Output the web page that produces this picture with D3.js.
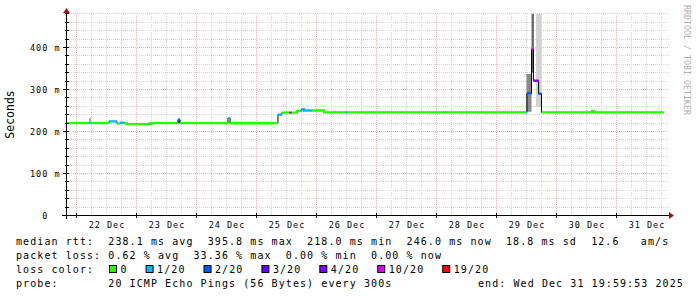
<!DOCTYPE html>
<html>
<head>
<meta charset="utf-8">
<script src="https://cdn.jsdelivr.net/npm/d3@7"></script>
<style>
  body { margin: 0; background: #fff; }
  svg { display: block; }
  text { font-family: "DejaVu Sans Mono", monospace; white-space: pre; }
</style>
</head>
<body>
<svg id="chart" width="697" height="297"></svg>
<script>
// median rtt as steps: start of each step, median in ms, loss bucket (index in lossLabels)
var stepTimes = [
  "2025-12-21 19:59", "2025-12-22 05:10", "2025-12-22 05:50", "2025-12-22 13:00",
  "2025-12-22 16:10", "2025-12-22 17:25", "2025-12-22 19:10", "2025-12-22 20:00",
  "2025-12-23 05:00", "2025-12-23 06:05", "2025-12-23 16:35", "2025-12-23 17:25",
  "2025-12-24 12:35", "2025-12-24 13:25", "2025-12-25 08:35", "2025-12-25 10:10",
  "2025-12-25 13:05", "2025-12-25 14:10", "2025-12-25 16:10", "2025-12-25 18:00",
  "2025-12-25 19:00", "2025-12-25 22:10", "2025-12-26 03:00", "2025-12-26 11:25",
  "2025-12-26 12:10", "2025-12-29 11:50", "2025-12-29 12:10", "2025-12-29 14:00",
  "2025-12-29 14:45", "2025-12-29 16:50", "2025-12-29 18:00", "2025-12-30 14:10",
  "2025-12-30 15:00"
];
var stepRtt = [
  220, 221, 220, 224,
  219, 221, 220, 217.5,
  218.5, 220, 228, 220,
  232, 219.5, 240, 245,
  245, 245, 249, 253,
  250, 250, 245.5, 245.5,
  245.5, 245.5, 291, 396,
  321, 290, 245.5, 249,
  245.5
];
var stepLoss = [
  0, 1, 0, 1,
  0, 1, 0, 0,
  0, 0, 2, 0,
  1, 0, 1, 0,
  5, 0, 0, 1,
  1, 0, 0, 1,
  0, 1, 2, 5,
  4, 2, 0, 0,
  0
];
var lastTime = "2025-12-31 18:50";

// smoke (spread of the 20 pings), ms
var smokeFrom  = ["2025-12-22 05:00", "2025-12-23 16:35", "2025-12-29 12:00", "2025-12-29 14:00", "2025-12-29 15:50"];
var smokeTo    = ["2025-12-22 05:50", "2025-12-23 17:25", "2025-12-29 14:00", "2025-12-29 15:00", "2025-12-29 18:00"];
var smokeLow   = [224, 219, 247, 340, 258];
var smokeHigh  = [233, 226, 337, 480, 480];
var smokeShade = ["#b4b4b4", "#606060", "#8a8a8a", "#6e6e6e", "#d2d2d2"];

var lossLabels = ["0", "1/20", "2/20", "3/20", "4/20", "10/20", "19/20"];
var lossColors = ["#26ff00", "#00b8ff", "#0059ff", "#5e00ff", "#7e00ff", "#dd00ff", "#ff0000"];

var yTicks = [0, 100, 200, 300, 400];
var yMax = 480;

var statsRtt = ["238.1 ms avg", "395.8 ms max", "218.0 ms min", "246.0 ms now", "18.8 ms sd", "12.6   am/s"];
var statsLoss = ["0.62 % avg", "33.36 % max", "0.00 % min", "0.00 % now"];
var probeText = "20 ICMP Echo Pings (56 Bytes) every 300s";
var endText = "end: Wed Dec 31 19:59:53 2025";

var parse = d3.timeParse("%Y-%m-%d %H:%M");
var tStart = d3.timeParse("%Y-%m-%d %H:%M:%S")("2025-12-21 19:59:53");
var tEnd = d3.timeParse("%Y-%m-%d %H:%M:%S")("2025-12-31 19:59:53");

var svg = d3.select("#chart");
var x = d3.scaleTime().domain([tStart, tEnd]).range([66.5, 666.5]);
var y = d3.scaleLinear().domain([0, yMax]).range([215.5, 13.9]);
var crisp = v => Math.floor(v) + 0.5;

// grid
var grid = svg.append("g");
var minorT = d3.timeHour.every(6).range(tStart, tEnd).filter(d => d.getHours() != 0);
var majorT = d3.timeDay.range(tStart, tEnd);
grid.selectAll(".vmin").data(minorT).enter().append("line")
  .attr("x1", d => crisp(x(d))).attr("x2", d => crisp(x(d)))
  .attr("y1", 215).attr("y2", y(yMax))
  .attr("stroke", "#d2d2d2").attr("stroke-dasharray", "1,1");
var hMinor = d3.range(20, yMax + 1, 20).filter(v => v % 100 != 0);
grid.selectAll(".hmin").data(hMinor).enter().append("line")
  .attr("x1", 67).attr("x2", 668)
  .attr("y1", d => crisp(y(d))).attr("y2", d => crisp(y(d)))
  .attr("stroke", "#d2d2d2").attr("stroke-dasharray", "1,1");
grid.selectAll(".vmaj").data(majorT).enter().append("line")
  .attr("x1", d => crisp(x(d))).attr("x2", d => crisp(x(d)))
  .attr("y1", 215).attr("y2", y(yMax))
  .attr("stroke", "#f2b2b2").attr("stroke-dasharray", "1,1");
grid.selectAll(".hmaj").data(yTicks.filter(v => v > 0)).enter().append("line")
  .attr("x1", 67).attr("x2", 668)
  .attr("y1", d => crisp(y(d))).attr("y2", d => crisp(y(d)))
  .attr("stroke", "#f2b2b2").attr("stroke-dasharray", "1,1");

// smoke
svg.append("g").selectAll("rect").data(smokeFrom).enter().append("rect")
  .attr("x", (d, i) => x(parse(d)))
  .attr("width", (d, i) => x(parse(smokeTo[i])) - x(parse(d)))
  .attr("y", (d, i) => y(smokeHigh[i]))
  .attr("height", (d, i) => y(smokeLow[i]) - y(smokeHigh[i]))
  .attr("fill", (d, i) => smokeShade[i]);

// median line, black underneath
var steps = stepTimes.map((d, i) => ({ t: parse(d), v: stepRtt[i], loss: stepLoss[i] }));
var line = d3.line().x(d => x(d.t)).y(d => y(d.v)).curve(d3.curveStepAfter);
var allPts = steps.concat([{ t: parse(lastTime), v: stepRtt[stepRtt.length - 1], loss: 0 }]);
svg.append("path").attr("d", line(allPts))
  .attr("fill", "none").attr("stroke", "#000").attr("stroke-width", 1);

// coloured runs by loss
var runs = [];
steps.forEach((s, i) => {
  var next = i + 1 < steps.length ? steps[i + 1].t : parse(lastTime);
  var last = runs[runs.length - 1];
  if (last && last.loss == s.loss) {
    last.pts.push(s);
    last.end = { t: next, v: s.v };
  } else {
    runs.push({ loss: s.loss, pts: [s], end: { t: next, v: s.v } });
  }
});
svg.append("g").selectAll("path").data(runs).enter().append("path")
  .attr("d", r => line(r.pts.concat([r.end])))
  .attr("fill", "none")
  .attr("stroke", r => lossColors[r.loss])
  .attr("stroke-width", 2.4);

// axes
var axis = svg.append("g");
axis.append("line").attr("x1", 62).attr("x2", 670).attr("y1", 215.5).attr("y2", 215.5).attr("stroke", "#000");
axis.append("line").attr("x1", 66.5).attr("x2", 66.5).attr("y1", 219).attr("y2", 12).attr("stroke", "#000");
axis.append("path").attr("d", "M669,212L674,215.5L669,219Z").attr("fill", "#a01818");
axis.append("path").attr("d", "M63,13L66.5,8L70,13Z").attr("fill", "#a01818");
axis.selectAll(".xt").data(majorT).enter().append("line")
  .attr("x1", d => crisp(x(d))).attr("x2", d => crisp(x(d)))
  .attr("y1", 213).attr("y2", 218).attr("stroke", "#000");
axis.selectAll(".yt").data(d3.range(20, yMax + 1, 20)).enter().append("line")
  .attr("x1", d => d % 100 == 0 ? 63 : 65).attr("x2", 69)
  .attr("y1", d => crisp(y(d))).attr("y2", d => crisp(y(d)))
  .attr("stroke", "#000");

// tick labels
svg.append("g").selectAll("text").data(yTicks).enter().append("text")
  .attr("x", 60.6).attr("y", d => y(d) + 3.5)
  .attr("text-anchor", "end")
  .attr("font-size", "8.5px").attr("letter-spacing", "1.0px").attr("fill", "#000")
  .text(d => d == 0 ? "0  " : d + " m");
svg.append("g").selectAll("text").data(majorT).enter().append("text")
  .attr("x", d => x(d3.timeHour.offset(d, 12)) + 0.5).attr("y", 227.5)
  .attr("text-anchor", "middle")
  .attr("font-size", "8.5px").attr("letter-spacing", "1.0px").attr("fill", "#000")
  .text(d3.timeFormat("%d %b"));

svg.append("text")
  .attr("transform", "translate(14,114.5) rotate(-90)")
  .attr("text-anchor", "middle").attr("font-size", "11.5px").attr("fill", "#000")
  .text("Seconds");

svg.append("text")
  .attr("transform", "translate(683.5,5) rotate(90)")
  .attr("font-size", "9px").attr("fill", "#b0b0b0")
  .attr("textLength", 110).attr("lengthAdjust", "spacingAndGlyphs")
  .text("RRDTOOL / TOBI OETIKER");

// footer
var foot = svg.append("g").attr("font-size", "10px").attr("letter-spacing", "1.08px").attr("fill", "#000");
foot.append("text").attr("x", 16).attr("y", 244.5).text("median rtt:  " + statsRtt.join("  "));
foot.append("text").attr("x", 16).attr("y", 258.7).text("packet loss: " + statsLoss.join("  "));
foot.append("text").attr("x", 16).attr("y", 272.9).text("loss color:");
foot.append("text").attr("x", 16).attr("y", 287.1).text("probe:       " + probeText);
foot.append("text").attr("x", 478).attr("y", 287.1).text(endText);

var lx = 109.5;
lossLabels.forEach((lab, i) => {
  foot.append("rect").attr("x", lx).attr("y", 265.5).attr("width", 7).attr("height", 7)
    .attr("fill", lossColors[i]).attr("stroke", "#000");
  var t = foot.append("text").attr("x", lx + 11).attr("y", 272.9).text(lab);
  lx += 11 + t.node().getComputedTextLength() + 18.5;
});
</script>
</body>
</html>
